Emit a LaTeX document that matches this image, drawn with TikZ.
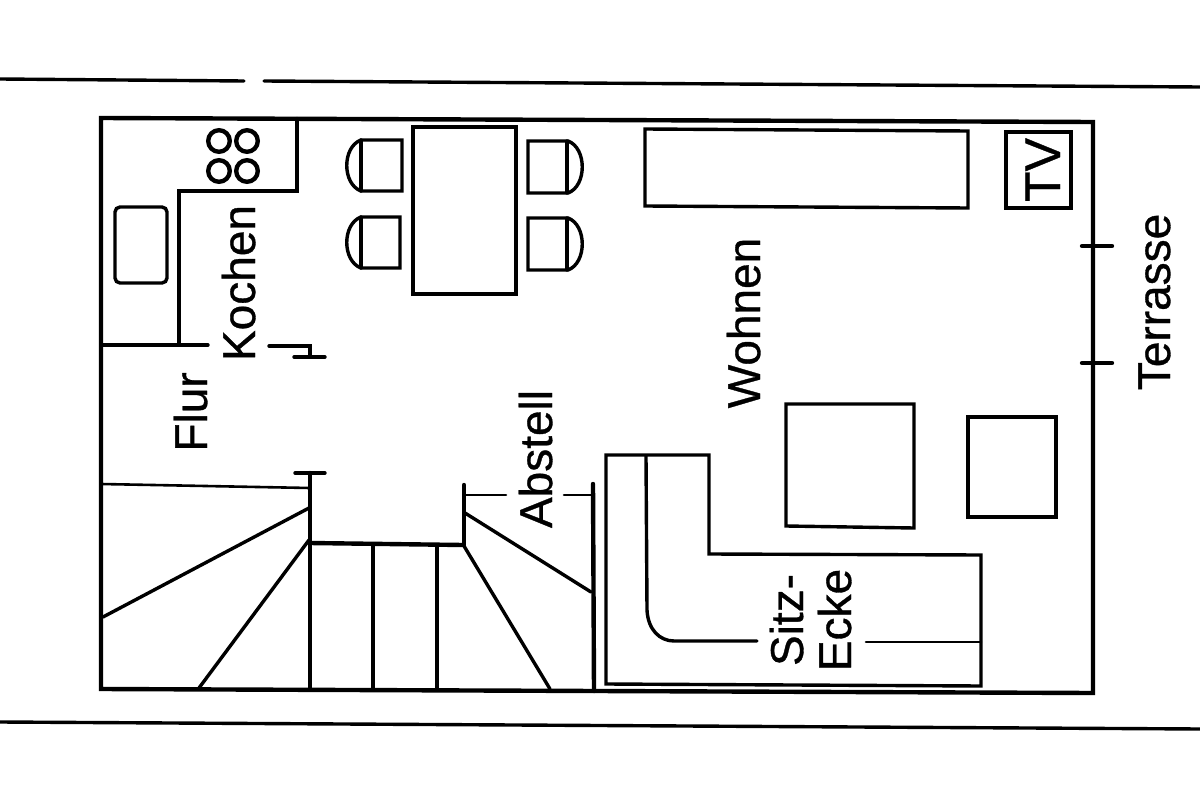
\documentclass[tikz,border=0pt]{standalone}
\usepackage{fontspec}
\setmainfont[BoldFont={Liberation Sans},BoldFeatures={FakeBold=0.7}]{Liberation Sans}
\tikzset{
  wall/.style={line width=4.4pt,line cap=round,line join=miter,black},
  mid/.style={line width=3.4pt,line cap=round,line join=miter,black},
  thin/.style={line width=2.6pt,line cap=round,line join=miter,black},
  lbl/.style={rotate=90,anchor=base,inner sep=0pt,font=\bfseries\fontsize{46}{50}\selectfont,text=black}
}
\begin{document}
\begin{tikzpicture}[x=1pt,y=-1pt]
\useasboundingbox (0,0) rectangle (1200,800);
\fill[white] (0,0) rectangle (1200,800);
% long outer lines
\draw[mid] (0,79) -- (244,81);
\draw[mid] (264,81) -- (1200,87);
\draw[mid] (0,722) -- (1200,729);
% outer walls
\draw[wall] (101,118) -- (1093,122) -- (1093,693) -- (101,689) -- cycle;
% kitchen
\draw[wall] (297,119) -- (297,191) -- (179,191) -- (179,344);
\draw[mid] (101,345) -- (208,345);
\draw[mid] (269,346) -- (310,346) -- (310,357);
\draw[mid] (294,357) -- (325,357);
% hobs
\foreach \x/\y in {219/141,247/141,219/171,247/171}
  \draw[wall] (\x,\y) circle (10.8);
% sink
\draw[mid,rounded corners=5pt] (115,207) rectangle (167,283);
% table and chairs
\draw[mid] (413,127) rectangle (516,294);
\draw[mid] (402,140) -- (361,140) .. controls (342,147) and (342,184) .. (361,191) -- (402,191) -- cycle;
\draw[mid] (400,217) -- (361,217) .. controls (342,224) and (342,261) .. (361,268) -- (400,268) -- cycle;
\draw[mid] (528,141) -- (568,141) .. controls (587,148) and (587,186) .. (568,193) -- (528,193) -- cycle;
\draw[mid] (567,141) -- (567,193);
\draw[mid] (528,218) -- (568,218) .. controls (587,225) and (587,263) .. (568,270) -- (528,270) -- cycle;
\draw[mid] (567,218) -- (567,270);
\draw[mid] (361,140) -- (361,191);
\draw[mid] (361,217) -- (361,268);
% sideboard, TV
\draw[mid] (645,129) -- (968,131) -- (968,208) -- (645,206) -- cycle;
\draw[mid] (1006,132) rectangle (1071,208);
% armchairs / table
\draw[mid] (786,404) -- (914,404) -- (914,528) -- (786,526) -- cycle;
\draw[mid] (968,417) -- (1056,417) -- (1056,517) -- (968,517) -- cycle;
% corner seat
\draw[mid] (606,455) -- (709,455) -- (709,554) -- (981,555) -- (981,686) -- (606,684) -- cycle;
\draw[mid] (646,456) -- (647,610) .. controls (648,630) and (660,641) .. (674,641) -- (757,641);
\draw[thin] (866,642) -- (981,642);
% stairs
\draw[thin] (101,484) -- (310,488);
\draw[mid] (295,473) -- (325,473);
\draw[wall] (310,473) -- (310,543);
\draw[mid] (310,543) -- (310,689);
\draw[wall] (310,543) -- (463,545);
\draw[mid] (373,545) -- (373,689);
\draw[mid] (437,546) -- (437,689);
\draw[wall] (464,485) -- (464,545);
\draw[thin] (466,495) -- (506,495);
\draw[thin] (564,495) -- (592,495);
\draw[wall] (593,484) -- (594,691);
\draw[mid] (103,617) -- (309,508);
\draw[mid] (199,688) -- (309,540);
\draw[mid] (465,513) -- (591,592);
\draw[mid] (464,546) -- (550,689);
% door ticks
\draw[wall] (1082,246) -- (1112,246);
\draw[wall] (1082,363) -- (1112,363);
% labels
\node[lbl] (kochen) at (255,283) {Kochen};
\node[lbl] (flur) at (207,412) {Flur};
\node[lbl] (abstell) at (552,459) {Abstell};
\node[lbl] (wohnen) at (760,323) {Wohnen};
\node[lbl] (sitz) at (803,620) {Sitz-};
\node[lbl] (ecke) at (851,620) {Ecke};
\node[lbl,font=\bfseries\fontsize{50}{54}\selectfont] (tv) at (1060,170) {TV};
\node[lbl] (terrasse) at (1170,302) {Terrasse};
\end{tikzpicture}
\end{document}
